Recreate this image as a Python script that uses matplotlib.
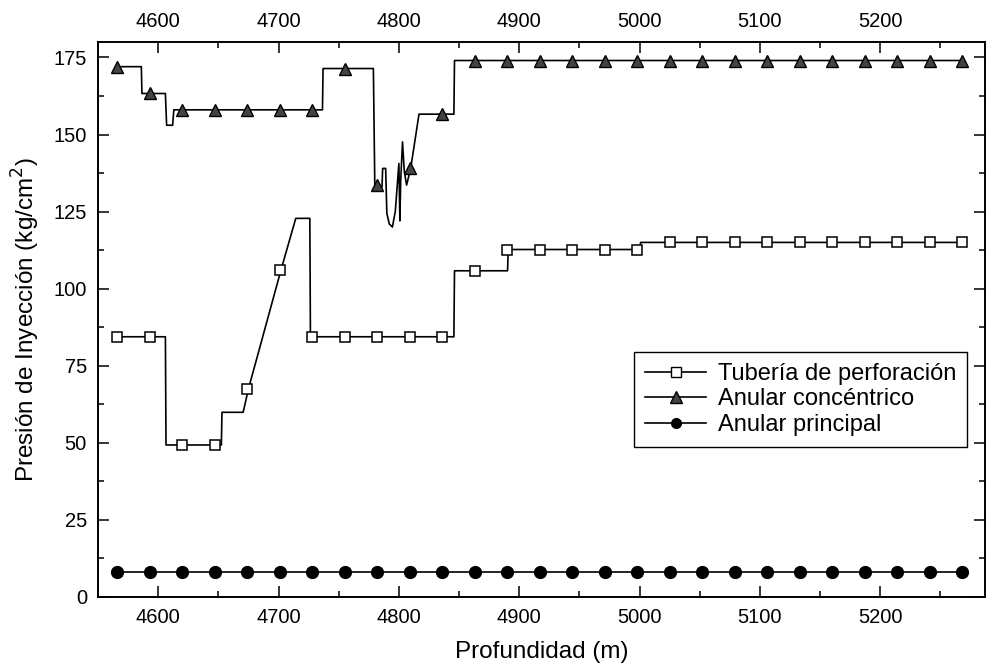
import matplotlib
matplotlib.use('Agg')
import matplotlib.pyplot as plt
from matplotlib.ticker import MultipleLocator

plt.rcParams['font.family'] = ['Liberation Sans', 'DejaVu Sans']

# Tubería de perforación (line path)
tub_x = [4566, 4606, 4606.5, 4652.5, 4653, 4670.6, 4675, 4702, 4714.3, 4726,
         4726.5, 4845.7, 4846.2, 4890.3, 4890.8, 5000.3, 5000.8, 5268]
tub_y = [84.4, 84.4, 49.3, 49.3, 59.9, 59.9, 67.5, 106, 122.8, 122.8,
         84.4, 84.4, 105.8, 105.8, 112.7, 112.7, 115, 115]

# Anular concéntrico (line path)
anc_x = [4566, 4586, 4586.5, 4606, 4607, 4612, 4613, 4736.5, 4737, 4778.8,
         4780, 4786, 4786.5, 4789, 4790, 4792, 4794.6, 4797, 4800, 4800.8,
         4801.5, 4803, 4804.5, 4806.4, 4809.8, 4816.7, 4845.7, 4846.2, 5268]
anc_y = [172, 172, 163.3, 163.3, 153, 153, 158, 158, 171.4, 171.4,
         133, 133, 139, 139, 124.4, 121, 120, 125, 140.6, 122,
         135, 147.6, 138, 133.6, 139, 156.6, 156.6, 174, 174]

# Anular principal (line path)
anp_x = [4566, 5268]
anp_y = [8, 8]

# marker positions
mk_x = [4566, 4593, 4620, 4647, 4674, 4701, 4728, 4755, 4782, 4809, 4836,
        4863, 4890, 4917, 4944, 4971, 4998, 5025, 5052, 5079, 5106, 5133,
        5160, 5187, 5214, 5241, 5268]
tub_mk = [84.4, 84.4, 49.3, 49.3, 67.5, 106, 84.4, 84.4, 84.4, 84.4, 84.4,
          105.8, 112.7, 112.7, 112.7, 112.7, 112.7, 115, 115, 115, 115, 115,
          115, 115, 115, 115, 115]
anc_mk = [172, 163.3, 158, 158, 158, 158, 158, 171.4, 133.5, 139, 156.6,
          174, 174, 174, 174, 174, 174, 174, 174, 174, 174, 174,
          174, 174, 174, 174, 174]
anp_mk = [8] * len(mk_x)

labels = ['Tubería de perforación', 'Anular concéntrico', 'Anular principal']

fig = plt.figure(figsize=(9.86, 6.71), dpi=100)
ax = fig.add_axes([0.0994, 0.1103, 0.8996, 0.8271])

lw = 1.2
ax.plot(tub_x, tub_y, color='black', lw=lw)
ax.plot(anc_x, anc_y, color='black', lw=lw)
ax.plot(anp_x, anp_y, color='black', lw=lw)

ax.plot(mk_x, tub_mk, ls='none', marker='s', ms=7.5, mfc='white', mec='black', mew=1.1)
ax.plot(mk_x, anc_mk, ls='none', marker='^', ms=9, mfc='#444444', mec='black', mew=1.0)
ax.plot(mk_x, anp_mk, ls='none', marker='o', ms=8.5, mfc='black', mec='black')

# legend handles
h1, = ax.plot([], [], color='black', lw=lw, marker='s', ms=6.5, mfc='white', mec='black')
h2, = ax.plot([], [], color='black', lw=lw, marker='^', ms=8, mfc='#444444', mec='black')
h3, = ax.plot([], [], color='black', lw=lw, marker='o', ms=7, mfc='black', mec='black')
leg = ax.legend([h1, h2, h3], labels, loc='upper right', bbox_to_anchor=(0.98, 0.441),
                borderaxespad=0, fontsize=17, handlelength=2.6, handletextpad=0.5,
                labelspacing=0.15, borderpad=0.45, fancybox=False, framealpha=1,
                edgecolor='black')
leg.get_frame().set_linewidth(1.0)

ax.set_xlim(4550, 5287)
ax.set_ylim(0, 180)
ax.xaxis.set_major_locator(MultipleLocator(100))
ax.xaxis.set_minor_locator(MultipleLocator(50))
ax.yaxis.set_major_locator(MultipleLocator(25))
ax.yaxis.set_minor_locator(MultipleLocator(12.5))

ax.tick_params(which='both', direction='in', top=True, right=True,
               labeltop=True, labelbottom=True, labelsize=14.5, width=1.1)
ax.tick_params(which='major', length=8, pad=8)
ax.tick_params(which='minor', length=4)
for s in ax.spines.values():
    s.set_linewidth(1.4)

ax.set_xlabel('Profundidad (m)', fontsize=17.5, labelpad=10)
ax.set_ylabel('Presión de Inyección (kg/cm$^2$)', fontsize=17.5, labelpad=8)

fig.savefig('out.png', dpi=100)
